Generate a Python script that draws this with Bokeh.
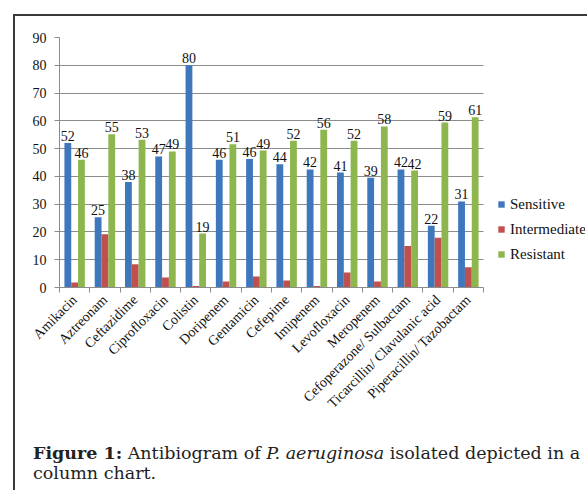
from math import pi
from bokeh.plotting import figure
from bokeh.models import Range1d, FixedTicker, Legend, LegendItem, Div, ColumnDataSource
from bokeh.layouts import column
from bokeh.core.properties import value
from bokeh.embed import file_html
from bokeh.resources import INLINE

categories = ["Amikacin", "Aztreonam", "Ceftazidime", "Ciprofloxacin", "Colistin",
              "Doripenem", "Gentamicin", "Cefepime", "Imipenem", "Levofloxacin",
              "Meropenem", "Cefoperazone/ Sulbactam", "Ticarcillin/ Clavulanic acid",
              "Piperacillin/ Tazobactam"]
sensitive = [52.0, 25.3, 38.0, 47.2, 80.0, 46.0, 46.3, 44.4, 42.5, 41.4, 39.5, 42.5, 22.2, 31.0]
intermediate = [1.8, 19.2, 8.4, 3.6, 0.5, 2.2, 4.0, 2.5, 0.5, 5.4, 2.2, 14.9, 17.9, 7.3]
resistant = [46.0, 55.2, 53.2, 49.0, 19.4, 51.6, 49.3, 52.8, 56.8, 52.8, 58.0, 42.1, 59.4, 61.3]
sensitive_labels = ["52", "25", "38", "47", "80", "46", "46", "44", "42", "41", "39", "42", "22", "31"]
resistant_labels = ["46", "55", "53", "49", "19", "51", "49", "52", "56", "52", "58", "42", "59", "61"]
series_names = ["Sensitive", "Intermediate", "Resistant"]
y_ticks = [0, 10, 20, 30, 40, 50, 60, 70, 80, 90]

colors = ["#3F77BD", "#C0504D", "#8DB64F"]
offsets = [-0.225, 0.0, 0.225]
SERIF = "Liberation Serif"
GRID = "#8c8c8c"

n = len(categories)
# frame spans 526 px; 14 categories occupy 424 px, the rest holds the legend
x_end = n * 526.0 / 424.0
p = figure(width=570, height=414, x_range=Range1d(0, x_end), y_range=Range1d(0, 90),
           output_backend="svg", toolbar_location=None,
           min_border_left=44, min_border_right=0, min_border_top=21, min_border_bottom=143)
p.outline_line_color = None
p.xgrid.visible = False
p.ygrid.ticker = FixedTicker(ticks=y_ticks)
p.ygrid.grid_line_color = GRID
p.ygrid.cross_bounds = (0, n)

renderers = []
for k, vals in enumerate([sensitive, intermediate, resistant]):
    src = ColumnDataSource(dict(x=[i + 0.5 + offsets[k] for i in range(n)], top=vals))
    r = p.vbar(x="x", top="top", bottom=0, width=0.225, source=src,
               fill_color=colors[k], line_color=None)
    renderers.append(r)

for k, vals, labs in [(0, sensitive, sensitive_labels), (2, resistant, resistant_labels)]:
    src = ColumnDataSource(dict(x=[i + 0.5 + offsets[k] for i in range(n)], y=vals, t=labs))
    p.text(x="x", y="y", text="t", source=src, text_align="center", text_baseline="bottom",
           y_offset=-2, text_font=value(SERIF), text_font_size="14px", text_color="#111111")

xa = p.xaxis[0]
xa.bounds = (0, n)
xa.ticker = FixedTicker(ticks=[i + 0.5 for i in range(n)], minor_ticks=list(range(n + 1)))
xa.major_label_overrides = {i + 0.5: c for i, c in enumerate(categories)}
xa.major_tick_out = 0
xa.major_tick_in = 0
xa.minor_tick_out = 5
xa.minor_tick_in = 0
xa.minor_tick_line_color = GRID
xa.axis_line_color = GRID
xa.major_label_orientation = pi / 4
xa.major_label_text_font = SERIF
xa.major_label_text_font_size = "14px"
xa.major_label_text_color = "#111111"
xa.major_label_standoff = 5

ya = p.yaxis[0]
ya.ticker = FixedTicker(ticks=y_ticks)
ya.major_tick_out = 5
ya.major_tick_in = 0
ya.major_tick_line_color = GRID
ya.minor_tick_line_color = None
ya.axis_line_color = GRID
ya.major_label_text_font = SERIF
ya.major_label_text_font_size = "14px"
ya.major_label_text_color = "#111111"
ya.major_label_standoff = 8

legend = Legend(items=[LegendItem(label=series_names[k], renderers=[renderers[k]]) for k in range(3)],
                location=(438, 23), padding=0, margin=0, spacing=5,
                glyph_width=8, glyph_height=8, label_height=20, label_standoff=5,
                border_line_color=None, background_fill_alpha=0,
                label_text_font=SERIF, label_text_font_size="15px", label_text_color="#111111")
p.add_layout(legend)

caption = Div(text='<b>Figure 1:</b> Antibiogram of <i>P. aeruginosa</i> isolated depicted in a<br>column chart.',
              width=570, height=56,
              styles={"font-family": "DejaVu Serif", "font-size": "17.5px", "line-height": "20px",
                      "color": "#222222", "padding-left": "13px", "padding-top": "8px",
                      "white-space": "nowrap"})

root = column(p, caption, margin=(14, 0, 0, 13),
              styles={"border-top": "2px solid #3a3a3a", "border-left": "2px solid #3a3a3a"})

open("out.html", "w").write(file_html(root, INLINE))
